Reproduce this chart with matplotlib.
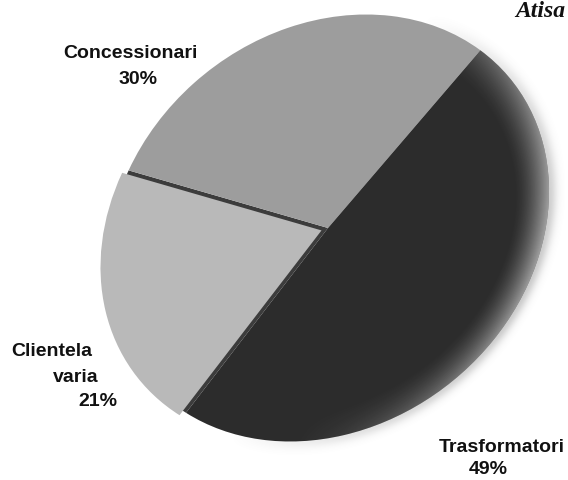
import numpy as np
import matplotlib
matplotlib.use("Agg")
import matplotlib.pyplot as plt
from matplotlib.patches import Wedge
from matplotlib.transforms import Affine2D

# Ripartizione delle vendite per tipo di cliente
labels = ["Concessionari", "Clientela varia", "Trasformatori"]
shares = [30, 21, 49]
colors = ["#9d9d9d", "#b9b9b9", "#2c2c2c"]

W, H = 568, 480
fig = plt.figure(figsize=(W / 100, H / 100), dpi=100)
ax = fig.add_axes([0, 0, 1, 1])

# tilted "perspective" disc: unit pie mapped onto a rotated ellipse
cx, cy = 328.0, H - 228.0
A, B, TILT = 235.6, 197.3, 39.3
START = 12
disc = Affine2D().scale(A, B).rotate_deg(TILT).translate(cx, cy)

wedges, _ = ax.pie(shares, colors=colors, startangle=START, counterclock=True,
                   explode=[0, 0.03, 0], radius=1.0, center=(0, 0),
                   wedgeprops=dict(linewidth=0))
for w in wedges:
    w.set_transform(disc + ax.transData)
    w.set_zorder(3)

# dark gap under the pulled-out slice
t1 = START + 360 * shares[0] / 100
t2 = t1 + 360 * shares[1] / 100
gap = Wedge((0, 0), 1.0, t1, t2, facecolor="#3c3c3c", linewidth=0,
            transform=disc + ax.transData, zorder=2)
ax.add_patch(gap)

# pixel grid in the disc's own coordinates for shading
X, Y = np.meshgrid(np.arange(W) + 0.5, np.arange(H) + 0.5)
c, s = np.cos(np.radians(TILT)), np.sin(np.radians(TILT))
dx, dy = X - cx, Y - cy
u = (dx * c + dy * s) / A
v = (-dx * s + dy * c) / B
r = np.hypot(u, v)
phi = np.arctan2(v, u)

# light catching the rim on the right-hand side of the dark slice
wr = np.clip(np.cos(phi - np.radians(-45)), 0, 1) ** 1.5
rim = np.zeros((H, W, 4))
rim[..., :3] = 1.0
rim[..., 3] = np.clip((r - 0.84) / 0.16, 0, 1) ** 1.6 * 0.55 * wr
im = ax.imshow(rim, extent=(0, W, 0, H), origin="lower", zorder=4,
               interpolation="bilinear")
im.set_clip_path(wedges[2])

# soft haze fading out beyond the right and lower edge
wh = np.clip(np.cos(phi - np.radians(-60)), 0, 1)
haze = np.zeros((H, W, 4))
haze[..., :3] = 0.5
d = np.clip(r - 1.0, 0, None)
haze[..., 3] = np.where(r > 0.985, np.exp(-(d / 0.035) ** 2) * 0.4 * wh, 0)
ax.imshow(haze, extent=(0, W, 0, H), origin="lower", zorder=1,
          interpolation="bilinear")

ax.set_xlim(0, W)
ax.set_ylim(0, H)
ax.set_aspect("auto")
ax.axis("off")

font = dict(family=["Liberation Sans", "DejaVu Sans"], fontsize=14,
            fontweight="bold", color="#111111", va="center", ha="center")
ax.text(130, H - 53, "Concessionari", **font)
ax.text(138, H - 79, "30%", **font)
ax.text(52, H - 352, "Clientela", **font)
ax.text(76, H - 377, "varia", **font)
ax.text(98, H - 401, "21%", **font)
ax.text(502, H - 448, "Trasformatori", **font)
ax.text(488, H - 469, "49%", **font)

ax.text(565, H - 1, "Atisa", family=["Liberation Serif", "DejaVu Serif"],
        fontsize=17, fontweight="bold", style="italic", color="#111111",
        ha="right", va="top")

fig.savefig("out.png", dpi=100)
